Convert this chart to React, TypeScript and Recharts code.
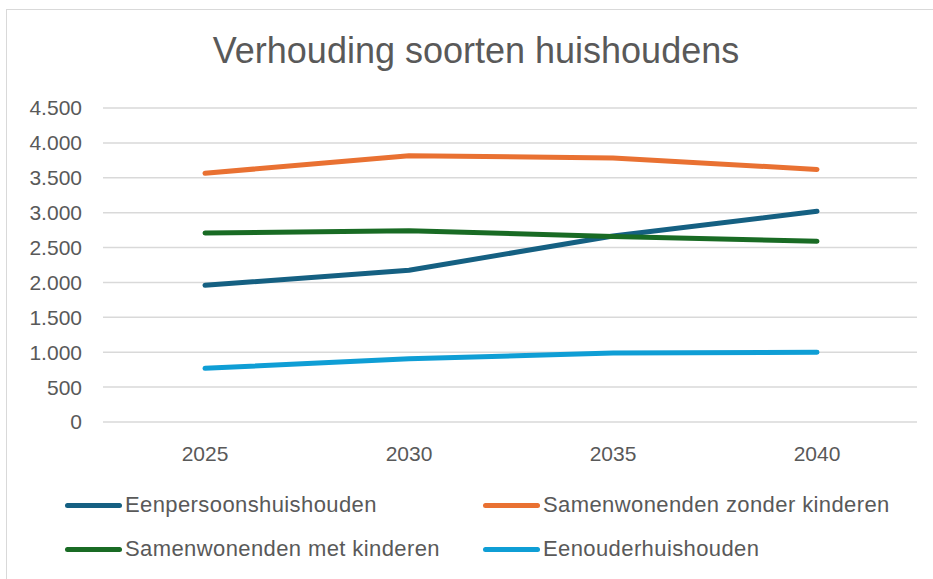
import { LineChart, Line, XAxis, YAxis, CartesianGrid } from 'recharts';

const years = ['2025', '2030', '2035', '2040'];
const eenpersoons = [1960, 2175, 2665, 3020];
const zonderKinderen = [3565, 3815, 3785, 3620];
const metKinderen = [2710, 2740, 2660, 2590];
const eenouder = [770, 905, 990, 1000];
const yTicks = [0, 500, 1000, 1500, 2000, 2500, 3000, 3500, 4000, 4500];

const series = [
    { key: 'eenpersoons', name: 'Eenpersoonshuishouden', color: '#156082', values: eenpersoons },
    { key: 'zonder', name: 'Samenwonenden zonder kinderen', color: '#E97132', values: zonderKinderen },
    { key: 'met', name: 'Samenwonenden met kinderen', color: '#196B24', values: metKinderen },
    { key: 'eenouder', name: 'Eenouderhuishouden', color: '#0F9ED5', values: eenouder },
];

const data = years.map((year, i) => {
    const row: any = { year };
    series.forEach(s => { row[s.key] = s.values[i]; });
    return row;
});

const font = '"Liberation Sans", Arial, sans-serif';
const grey = '#595959';

// dutch thousands separator
const fmt = (v: number) => String(v).replace(/\B(?=(\d{3})+(?!\d))/g, '.');

export default function App() {
    return (
        <div style={{ position: 'absolute', left: 0, top: 0, width: 933, height: 579, overflow: 'hidden', background: '#fff', fontFamily: font }}>
            <div style={{ position: 'absolute', left: 6, top: 9, width: 1000, height: 700, border: '1.5px solid #d9d9d9' }} />
            <div style={{ position: 'absolute', left: 0, top: 31, width: 952, textAlign: 'center', fontSize: 36, lineHeight: '40px', color: grey }}>
                Verhouding soorten huishoudens
            </div>
            <div style={{ position: 'absolute', left: 0, top: 0 }}>
                <LineChart
                    width={933}
                    height={579}
                    data={data}
                    margin={{ top: 108, right: 16, bottom: 117, left: 0 }}
                >
                    <CartesianGrid vertical={false} stroke='#d9d9d9' strokeWidth={1.5} />
                    <XAxis
                        dataKey='year'
                        height={40}
                        padding={{ left: 102, right: 100 }}
                        axisLine={false}
                        tickLine={false}
                        tickSize={0}
                        tickMargin={24}
                        tick={{ fill: grey, fontSize: 21, fontFamily: font }}
                    />
                    <YAxis
                        width={103}
                        domain={[0, 4500]}
                        ticks={yTicks}
                        tickFormatter={fmt}
                        axisLine={false}
                        tickLine={false}
                        tickSize={0}
                        tickMargin={21}
                        tick={{ fill: grey, fontSize: 21, fontFamily: font }}
                    />
                    {series.map(s => (
                        <Line
                            key={s.key}
                            dataKey={s.key}
                            name={s.name}
                            type='linear'
                            stroke={s.color}
                            strokeWidth={5}
                            strokeLinecap='round'
                            strokeLinejoin='round'
                            dot={false}
                            activeDot={false}
                            isAnimationActive={false}
                        />
                    ))}
                </LineChart>
            </div>
            {series.map((s, i) => {
                const left = i % 2 === 0 ? 65 : 483;
                const cy = i < 2 ? 505 : 549;
                return (
                    <div key={s.key} style={{ position: 'absolute', left, top: cy - 14, height: 28, display: 'flex', alignItems: 'center' }}>
                        <div style={{ width: 57, height: 5, borderRadius: 3, background: s.color }} />
                        <span style={{ marginLeft: 3, fontSize: 22, letterSpacing: 0.4, color: grey, whiteSpace: 'nowrap' }}>{s.name}</span>
                    </div>
                );
            })}
        </div>
    );
}
